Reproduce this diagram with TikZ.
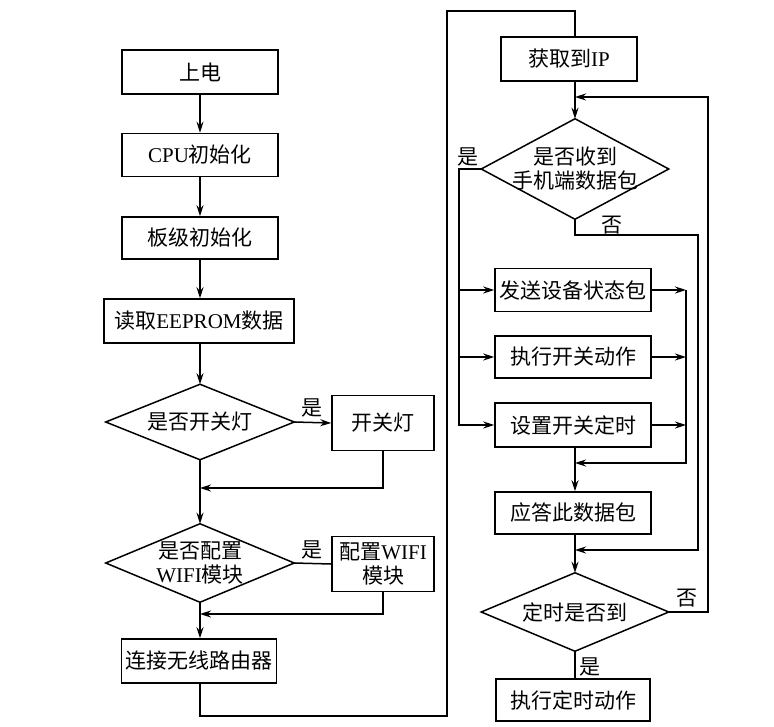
\documentclass[tikz,border=0pt]{standalone}
\usepackage{fontspec}
\setmainfont{Liberation Serif}
\newfontfamily\cjk{Noto Sans CJK SC}
\newcommand\zh[1]{{\cjk #1}}
\usetikzlibrary{arrows.meta,calc}
\begin{document}
\begin{tikzpicture}[x=1pt,y=-1pt, line width=1.5pt,
  >={Stealth[length=11pt,width=7pt]},
  box/.style={draw, rectangle, inner sep=0pt, align=center, font=\fontsize{21}{24}\selectfont},
  dia/.style={rectangle, inner sep=0pt, align=center, font=\fontsize{21}{24}\selectfont},
  lbl/.style={inner sep=0pt, font=\fontsize{21}{24}\selectfont}]
\useasboundingbox (0,0) rectangle (774,726);
\fill[white] (0,0) rectangle (774,726);
% left column
\node[box, minimum width=156pt, minimum height=44pt] (on) at (200,72) {\zh{上电}};
\node[box, minimum width=156pt, minimum height=43pt] (cpu) at (200,155) {CPU\zh{初始化}};
\node[box, minimum width=156pt, minimum height=42pt] (board) at (200,238) {\zh{板级初始化}};
\node[box, minimum width=190pt, minimum height=44pt] (eeprom) at (199,321) {\zh{读取}EEPROM\zh{数据}};
\node[dia, minimum width=187pt, minimum height=74pt] (d1) at (200,422) {\zh{是否开关灯}};
\node[box, minimum width=102pt, minimum height=55pt] (light) at (383,423) {\zh{开关灯}};
\node[dia, minimum width=187pt, minimum height=77pt] (d2) at (200,563) {\zh{是否配置}\\WIFI\zh{模块}};
\node[box, minimum width=102pt, minimum height=55pt] (wifi) at (383,564) {\zh{配置}WIFI\\\zh{模块}};
\node[box, minimum width=155pt, minimum height=44pt] (router) at (199,661) {\zh{连接无线路由器}};
% right column
\node[box, minimum width=136pt, minimum height=44pt] (ip) at (569,59) {\zh{获取到}IP};
\node[dia, minimum width=186pt, minimum height=99pt] (d3) at (575,169) {\zh{是否收到}\\\zh{手机端数据包}};
\node[box, minimum width=156pt, minimum height=43pt] (send) at (573,290) {\zh{发送设备状态包}};
\node[box, minimum width=156pt, minimum height=42pt] (exec) at (573,357) {\zh{执行开关动作}};
\node[box, minimum width=156pt, minimum height=44pt] (timer) at (573,425) {\zh{设置开关定时}};
\node[box, minimum width=156pt, minimum height=42pt] (ack) at (573,513) {\zh{应答此数据包}};
\node[dia, minimum width=186pt, minimum height=77pt] (d4) at (575,612) {\zh{定时是否到}};
\node[box, minimum width=154pt, minimum height=42pt] (tact) at (573,700) {\zh{执行定时动作}};
\foreach \n in {d1,d2,d3,d4} \draw (\n.north)--(\n.east)--(\n.south)--(\n.west)--cycle;
% labels
\node[lbl] (l1) at (312,408) {\zh{是}};
\node[lbl] (l2) at (312,550) {\zh{是}};
\node[lbl] (l3) at (468,157) {\zh{是}};
\node[lbl] (l4) at (612,225) {\zh{否}};
\node[lbl] (l5) at (687,598) {\zh{否}};
\node[lbl] (l6) at (590,667) {\zh{是}};
% left connectors
\draw[->] (on) -- (cpu);
\draw[->] (cpu) -- (board);
\draw[->] (board) -- (board |- eeprom.north);
\draw[->] (d1.north |- eeprom.south) -- (d1.north);
\draw[->] (d1.east) -- (light.west);
\coordinate (j1) at (200,488);
\draw[->] (light.south) |- (j1);
\draw[->] (d1.south) -- (d2.north);
\draw (d2.east) -- (wifi.west);
\coordinate (j2) at (200,614);
\draw[->] (wifi.south) |- (j2);
\draw[->] (d2.south) -- (d2.south |- router.north);
\coordinate (c1) at (200,716);
\coordinate (c2) at (447,11);
\coordinate (c3) at (575,37);
\draw (c1 |- router.south) -- (c1) -| (c2) -| (c3);
% right connectors
\draw[->] (d3.north |- ip.south) -- (d3.north);
\coordinate (ly) at (459,169);
\draw[->] (d3.west) -- (ly) |- (timer.west);
\draw[->] (ly |- send.west) -- (send.west);
\draw[->] (ly |- exec.west) -- (exec.west);
\coordinate (no1) at (575,235);
\coordinate (rn) at (698,550);
\coordinate (m2) at (575,550);
\draw[->] (d3.south) -- (no1) -| (rn) -- (m2);
\coordinate (rx) at (686,290);
\draw[->] (send.east) -- (rx);
\draw[->] (exec.east) -- (rx |- exec.east);
\draw[->] (timer.east) -- (rx |- timer.east);
\coordinate (m1) at (575,463);
\draw[->] (rx) |- (m1);
\draw[->] (d4.south |- timer.south) -- (d4.south |- ack.north);
\draw[->] (d4.south |- ack.south) -- (d4.north);
\coordinate (lp) at (708,612);
\coordinate (m3) at (575,97);
\draw[->] (d4.east) -- (lp) |- (m3);
\draw (d4.south) -- (d4.south |- tact.north);
\end{tikzpicture}
\end{document}
